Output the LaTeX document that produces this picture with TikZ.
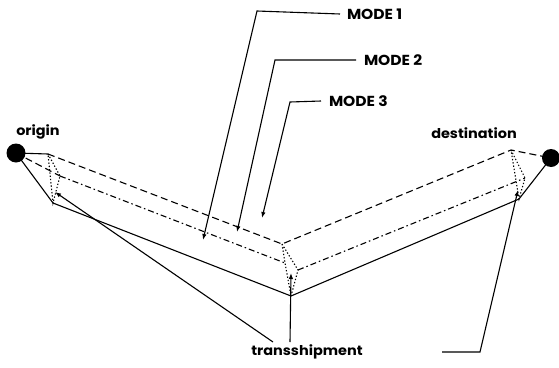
\documentclass[tikz,border=0pt]{standalone}
\usepackage{fontspec}
\setmainfont{Poppins}[FakeStretch=1.07]
\usetikzlibrary{arrows.meta}
\begin{document}
\begin{tikzpicture}[x=1pt,y=-1pt,
  every node/.style={inner sep=0pt,outer sep=0pt,font=\fontsize{13.5}{15}\selectfont\bfseries},
  capsize/.style={font=\fontsize{14.5}{16}\selectfont\bfseries},
  solidln/.style={line width=1.1pt},
  dashln/.style={line width=1.1pt,dash pattern=on 7pt off 4pt},
  dashdotln/.style={line width=1.1pt,dash pattern=on 6pt off 3pt on 1.5pt off 3pt},
  dotln/.style={line width=1.1pt,dash pattern=on 1.3pt off 2pt},
  leader/.style={line width=1.1pt,-{Latex[length=6pt,width=4.5pt]}},
  dot/.style={circle,fill=black,minimum size=19pt}]
\useasboundingbox (0,0) rectangle (559,367);
% places
\node[dot] (O) at (16,153) {};
\node[dot,minimum size=18pt] (D) at (551,158) {};
\coordinate (OT) at (48,154);
\coordinate (OM) at (60,176);
\coordinate (OB) at (53,203);
\coordinate (CT) at (282,244);
\coordinate (CML) at (285,263);
\coordinate (CMR) at (298,270);
\coordinate (CB) at (291,296);
\coordinate (DT) at (511,150);
\coordinate (DM) at (525,178);
\coordinate (DB) at (519,199);
% mode paths
\draw[solidln] (O.center) -- (OT);
\draw[solidln] (O.center) -- (OB);
\draw[dashln] (O.center) -- (OM);
\draw[dashln] (OT) -- (CT) -- (DT) -- (D.center);
\draw[dashdotln] (OM) -- (CML);
\draw[dashdotln] (CMR) -- (DM);
\draw[solidln] (OB) -- (CB) -- (DB) -- (D.center);
% transfer links
\draw[dotln] (OT) -- (OM) -- (OB) -- cycle;
\draw[dotln] (CT) -- (CML) -- (CB) -- (CMR) -- cycle;
\draw[dotln] (DT) -- (DM) -- (DB) -- cycle;
% labels
\node (lo) at (38,132) {origin};
\node (ld) at (474,133) {destination};
\node[anchor=west,capsize] (m1) at (347,14) {MODE 1};
\node[anchor=west,capsize] (m2) at (364,60) {MODE 2};
\node[anchor=west,capsize] (m3) at (329,101) {MODE 3};
\node (tr) at (307,352) {transshipment};
% leaders
\coordinate (m1k) at (257,11);
\coordinate (m1t) at (203,240);
\coordinate (m2k) at (275,60);
\coordinate (m2t) at (237,232);
\coordinate (m3k) at (290,102);
\coordinate (m3t) at (262,218);
\draw[leader] ([xshift=-7pt]m1.west) -- (m1k) -- (m1t);
\draw[leader] ([xshift=-8pt]m2.west) -- (m2k) -- (m2t);
\draw[leader] ([xshift=-8pt]m3.west) -- (m3k) -- (m3t);
\coordinate (tl) at (273,342);
\coordinate (tlt) at (55,192);
\coordinate (tc) at (290,342);
\coordinate (tct) at (291,273);
\coordinate (tr1) at (442,352);
\coordinate (tr2) at (480,352);
\coordinate (trt) at (518,190);
\draw[leader] (tl) -- (tlt);
\draw[leader] (tc) -- (tct);
\draw[leader] (tr1) -- (tr2) -- (trt);
\end{tikzpicture}
\end{document}
